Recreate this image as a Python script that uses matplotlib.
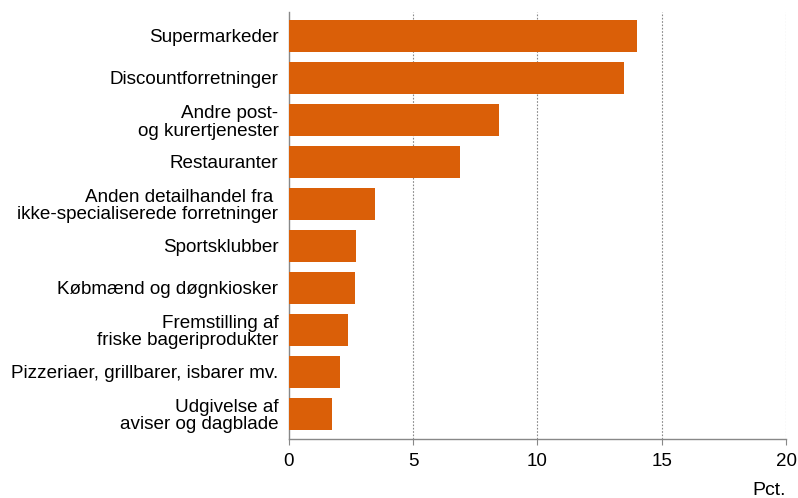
import matplotlib
matplotlib.use("Agg")
import matplotlib.pyplot as plt

categories = [
    "Supermarkeder",
    "Discountforretninger",
    "Andre post-\nog kurertjenester",
    "Restauranter",
    "Anden detailhandel fra \nikke-specialiserede forretninger",
    "Sportsklubber",
    "Købmænd og døgnkiosker",
    "Fremstilling af\nfriske bageriprodukter",
    "Pizzeriaer, grillbarer, isbarer mv.",
    "Udgivelse af\naviser og dagblade",
]
values = [14.0, 13.5, 8.47, 6.87, 3.48, 2.70, 2.64, 2.38, 2.06, 1.75]
xticks = [0, 5, 10, 15, 20]

plt.rcParams['font.family'] = ['Liberation Sans', 'DejaVu Sans']

fig = plt.figure(figsize=(7.98, 4.98), dpi=100)
ax = fig.add_axes([0.362, 0.1185, 0.623, 0.8575])

ypos = list(range(len(categories)))
ax.barh(ypos, values, height=0.76, color='#DA5F08', zorder=3)

ax.set_xlim(0, 20)
ax.set_ylim(9.6, -0.57)
ax.set_xticks(xticks)
ax.set_xticklabels([str(t) for t in xticks], fontsize=13.5)
ax.set_yticks(ypos)
ax.set_yticklabels(categories, fontsize=13.6, ha='right', linespacing=1.05)
ax.tick_params(axis='y', length=0, pad=7.5)
ax.tick_params(axis='x', length=4, color='#888888', pad=6, width=0.8)

for t in xticks[1:]:
    ax.axvline(t, color='#888888', linestyle=(0, (1.5, 1.5)), linewidth=0.8, zorder=1)

for s in ['top', 'right']:
    ax.spines[s].set_visible(False)
for s in ['left', 'bottom']:
    ax.spines[s].set_color('#888888')
    ax.spines[s].set_linewidth(1.0)

fig.text(786/798, 1 - 490/498, "Pct.", ha='right', va='center', fontsize=14)

fig.savefig("out.png", dpi=100)
